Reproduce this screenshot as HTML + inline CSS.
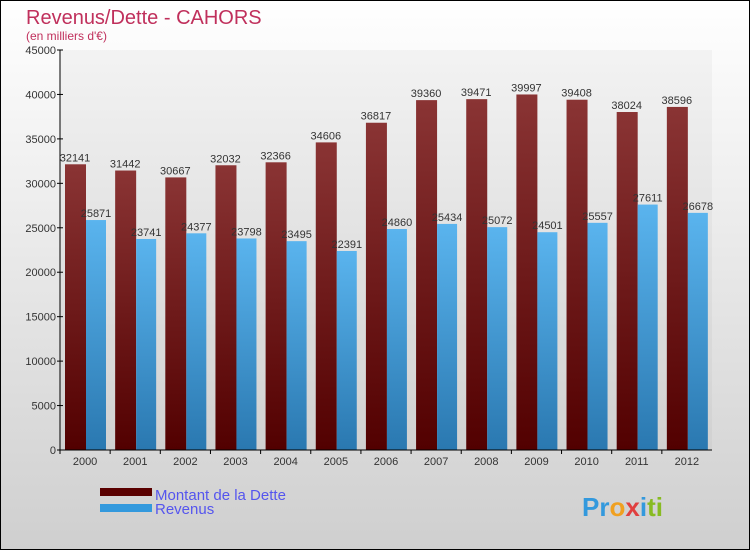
<!DOCTYPE html>
<html><head><meta charset="utf-8"><style>
body{margin:0}
svg text{font-family:"Liberation Sans",sans-serif}
</style></head><body>
<svg id="c" width="750" height="550" xmlns="http://www.w3.org/2000/svg">
<defs>
<linearGradient id="bg" x1="0" y1="0" x2="0" y2="1"><stop offset="0" stop-color="#ffffff"/><stop offset="1" stop-color="#cfcfcf"/></linearGradient>
<linearGradient id="gd" x1="0" y1="0" x2="0" y2="1"><stop offset="0" stop-color="#8a3434"/><stop offset="1" stop-color="#520000"/></linearGradient>
<linearGradient id="gr" x1="0" y1="0" x2="0" y2="1"><stop offset="0" stop-color="#5ab4ee"/><stop offset="1" stop-color="#2a78b0"/></linearGradient>
</defs>
<rect x="0.5" y="0.5" width="749" height="549" fill="url(#bg)" stroke="#000"/>
<text x="26" y="24" font-size="20" fill="#c0305c">Revenus/Dette - CAHORS</text>
<text x="26" y="40" font-size="12" fill="#c0305c">(en milliers d'€)</text>
<g id="plot"></g>
<rect x="100" y="488" width="52" height="8" fill="#5a0000"/>
<text x="155" y="500" font-size="15" fill="#5555ee">Montant de la Dette</text>
<rect x="100" y="504" width="52" height="8" fill="#3399dd"/>
<text x="155" y="514" font-size="15" fill="#5555ee">Revenus</text>
<text x="582" y="516" font-size="26" font-weight="bold"><tspan fill="#3399dd">Pr</tspan><tspan fill="#f0a020">o</tspan><tspan fill="#e04040">x</tspan><tspan fill="#3399dd">i</tspan><tspan fill="#88bb22">ti</tspan></text>
</svg>
<script>
const years=["2000","2001","2002","2003","2004","2005","2006","2007","2008","2009","2010","2011","2012"];
const dette=[32141,31442,30667,32032,32366,34606,36817,39360,39471,39997,39408,38024,38596];
const revenus=[25871,23741,24377,23798,23495,22391,24860,25434,25072,24501,25557,27611,26678];
const ticks=[0,5000,10000,15000,20000,25000,30000,35000,40000,45000];
const NS="http://www.w3.org/2000/svg";
const g=document.getElementById('plot');
const x0=60,x1=712,y0=450,y1=50,ymax=45000;
const yS=v=>y0-(v/ymax)*(y0-y1);
const bw=(x1-x0)/years.length;
const xS=i=>x0+i*bw;
function el(t,a){const e=document.createElementNS(NS,t);for(const k in a)e.setAttribute(k,a[k]);g.appendChild(e);return e;}
const pa=el('rect',{x:x0,y:y1,width:x1-x0,height:y0-y1,fill:'#000',opacity:'0.03'});


years.forEach((yr,i)=>{
  const bx=xS(i);
  const d=el('rect',{x:bx+5,y:yS(dette[i]),width:21,height:y0-yS(dette[i]),fill:'url(#gd)'});
  
  
  const r=el('rect',{x:bx+26,y:yS(revenus[i]),width:20,height:y0-yS(revenus[i]),fill:'url(#gr)'});
  
  
  const t1=el('text',{x:bx+15,y:yS(dette[i])-3,'font-size':11,fill:'#333','text-anchor':'middle'});
  t1.textContent=dette[i];
  
  
  const t2=el('text',{x:bx+36,y:yS(revenus[i])-3,'font-size':11,fill:'#333','text-anchor':'middle'});
  t2.textContent=revenus[i];
  
  
  const xl=el('text',{x:bx+bw/2,y:465,'font-size':11,fill:'#333','text-anchor':'middle'});
  xl.textContent=yr;
  
  
  el('line',{x1:bx,x2:bx,y1:y0,y2:y0+4,stroke:'#000'});
});
ticks.forEach(t=>{
  const y=yS(t);
  el('line',{x1:x0-3,x2:x0+3,y1:y,y2:y,stroke:'#000'});
  const l=el('text',{x:x0-4,y:y+4,'font-size':11,fill:'#333','text-anchor':'end'});
  l.textContent=t;
  
  
});
const ya=el('line',{x1:x0,x2:x0,y1:y1,y2:y0,stroke:'#000'});


const xa=el('line',{x1:x0,x2:x1,y1:y0,y2:y0,stroke:'#000'});


</script>
</body></html>
